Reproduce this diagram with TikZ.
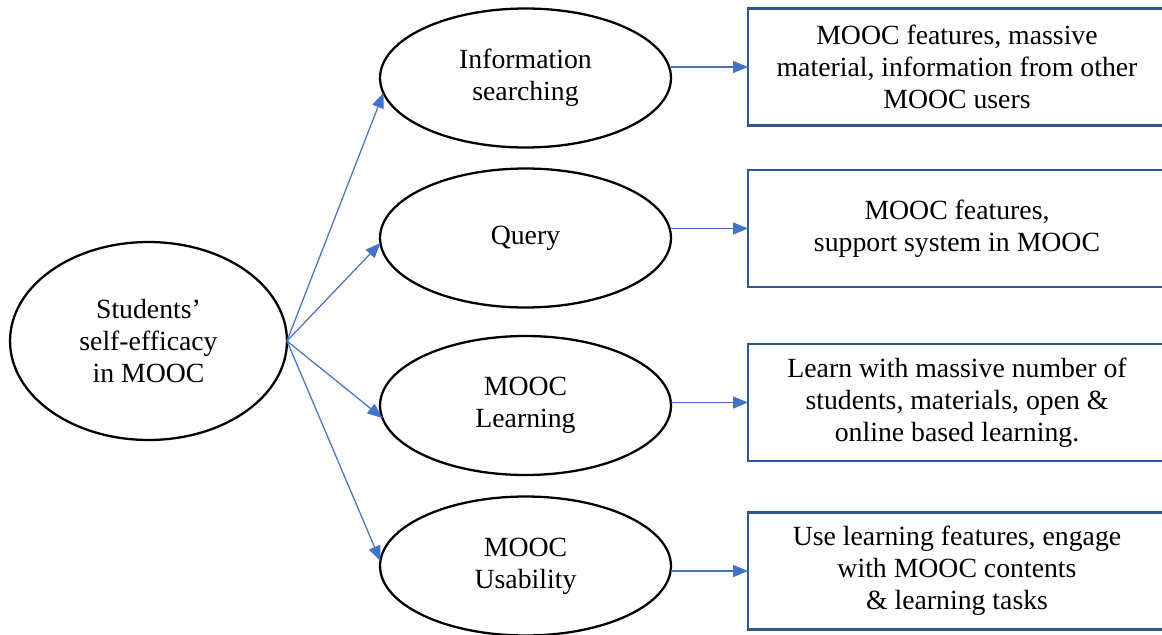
\documentclass[tikz,border=0pt]{standalone}
\usepackage{fontspec}
\setmainfont{Liberation Serif}
\usetikzlibrary{arrows.meta,shapes.geometric}

\definecolor{arrowblue}{HTML}{4472C4}
\definecolor{boxblue}{HTML}{2F5597}

\tikzstyle{main}  = [inner sep=0pt, outer sep=0pt, align=center, font=\fontsize{15.8}{18.2}\selectfont]
\tikzstyle{cell}  = [main, ellipse, draw=black, line width=1.3pt, minimum width=5.82cm, minimum height=2.78cm]
\tikzstyle{cbox}  = [main, rectangle, draw=boxblue, line width=1.3pt, minimum width=8.36cm, minimum height=2.34cm]
\tikzstyle{link}  = [draw=arrowblue, line width=0.7pt, -{Triangle[length=3mm,width=2.4mm]}]

\begin{document}
\begin{tikzpicture}[x=0.02cm, y=-0.02cm]
     \clip (0,0) rectangle (1162,635);
     % source
     \node[cell, minimum width=5.54cm, minimum height=3.96cm] (self) at (148.5, 341) {Students’\\self-efficacy\\in MOOC};
     % middle column
     \node[cell] (info)  at (525.5,  78) {Information\\searching};
     \node[cell] (query) at (525.5, 238) {Query};
     \node[cell] (learn) at (525.5, 405.5) {MOOC\\Learning};
     \node[cell] (usab)  at (525.5, 566) {MOOC\\Usability};
     % right column
     \node[cbox] (binfo)  at (957,  67) {MOOC features, massive\\material, information from other\\MOOC users};
     \node[cbox] (bquery) at (957, 228.5) {MOOC features,\\support system in MOOC};
     \node[cbox] (blearn) at (957, 402.5) {Learn with massive number of\\students, materials, open \&\\online based learning.};
     \node[cbox] (busab)  at (957, 571) {Use learning features, engage\\with MOOC contents\\\& learning tasks};
     % arrows
     \draw[link] (self.east) -- (info.186);
     \draw[link] (self.east) -- (query.182);
     \draw[link] (self.east) -- (learn.185);
     \draw[link] (self.east) -- (usab.178);
     \draw[link] (info.east  |- binfo.west)  -- (binfo.west);
     \draw[link] (query.east |- bquery.west) -- (bquery.west);
     \draw[link] (learn.east |- blearn.west) -- (blearn.west);
     \draw[link] (usab.east  |- busab.west)  -- (busab.west);
\end{tikzpicture}
\end{document}
